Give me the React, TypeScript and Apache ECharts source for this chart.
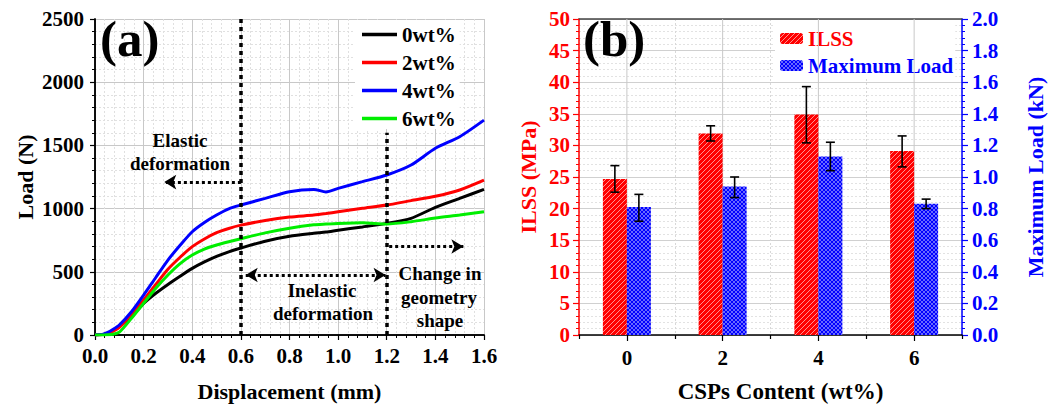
import React, { useEffect, useRef } from 'react';
import * as echarts from 'echarts';

// ---------- Data: panel (a) ----------
const displacement = [0, 0.03, 0.05, 0.075, 0.1, 0.15, 0.2, 0.25, 0.3, 0.35, 0.4, 0.45, 0.5, 0.55, 0.6, 0.7, 0.8, 0.9, 0.95, 1.0, 1.1, 1.2, 1.3, 1.4, 1.5, 1.6];
const load0 = [0, 3, 12, 35, 66, 148, 250, 330, 400, 465, 527, 578, 622, 658, 688, 742, 781, 805, 815, 829, 855, 883, 923, 1010, 1081, 1152];
const load2 = [0, 3, 10, 30, 60, 166, 277, 400, 520, 615, 699, 760, 810, 843, 869, 906, 933, 949, 961, 975, 1002, 1028, 1063, 1097, 1147, 1225];
const load4 = [0, 5, 18, 45, 79, 184, 316, 455, 593, 710, 817, 890, 949, 998, 1028, 1081, 1134, 1152, 1132, 1160, 1213, 1266, 1345, 1477, 1569, 1700];
const load6 = [0, 0, 2, 6, 22, 132, 251, 370, 475, 565, 633, 680, 712, 738, 762, 808, 845, 872, 878, 883, 888, 878, 896, 925, 949, 975];
const curveNames = ['0wt%', '2wt%', '4wt%', '6wt%'];

// ---------- Data: panel (b) ----------
const contents = ['0', '2', '4', '6'];
const ilss = [24.7, 31.9, 34.9, 29.1];
const ilssLow = [22.6, 30.7, 30.4, 26.6];
const ilssHigh = [26.8, 33.1, 39.3, 31.5];
const maxLoad = [0.81, 0.94, 1.13, 0.83];
const maxLoadLow = [0.72, 0.87, 1.04, 0.80];
const maxLoadHigh = [0.89, 1.0, 1.22, 0.86];

const FONT = '"Liberation Serif", "Times New Roman", serif';
const BAR_W = 24;

function hatchRed() {
  const c = document.createElement('canvas');
  c.width = 5; c.height = 5;
  const g = c.getContext('2d')!;
  g.fillStyle = '#ff0000';
  g.fillRect(0, 0, 5, 5);
  g.strokeStyle = 'rgba(255,170,170,0.95)';
  g.lineWidth = 0.9;
  g.beginPath();
  g.moveTo(-1, 6); g.lineTo(6, -1);
  g.moveTo(-1, 1); g.lineTo(1, -1);
  g.moveTo(4, 6); g.lineTo(6, 4);
  g.stroke();
  return c;
}
function crossBlue() {
  const c = document.createElement('canvas');
  c.width = 4; c.height = 4;
  const g = c.getContext('2d')!;
  g.fillStyle = '#0000ff';
  g.fillRect(0, 0, 4, 4);
  g.strokeStyle = 'rgba(140,140,255,0.95)';
  g.lineWidth = 0.8;
  g.beginPath();
  g.moveTo(0, 4); g.lineTo(4, 0);
  g.moveTo(0, 0); g.lineTo(4, 4);
  g.stroke();
  return c;
}

const tickLabel = (color: string) => ({ color, fontFamily: FONT, fontWeight: 'bold' as const, fontSize: 21 });
const titleText = (color: string, size = 22) => ({ color, fontFamily: FONT, fontWeight: 'bold' as const, fontSize: size });

export default function App() {
  const ref = useRef<HTMLDivElement>(null);
  useEffect(() => {
    const chart = echarts.init(ref.current!, null, { renderer: 'svg' });
    const redPat = { image: hatchRed(), repeat: 'repeat' };
    const bluePat = { image: crossBlue(), repeat: 'repeat' };

    const lineColors = ['#000000', '#ff0000', '#0000ff', '#00ee00'];
    const loads = [load0, load2, load4, load6];

    const dotted = { type: [4, 4] as any, width: 3.5, color: '#000' };
    const arrowDots = { type: [3, 3] as any, width: 3, color: '#000' };

    const errRender = (offset: number) => (params: any, api: any) => {
      const i = api.value(0);
      const pLo = api.coord([i, api.value(1)]);
      const pHi = api.coord([i, api.value(2)]);
      const x = pLo[0] + offset;
      const cap = 4.5;
      const st = { stroke: '#000', lineWidth: 1.6 };
      return {
        type: 'group',
        children: [
          { type: 'line', shape: { x1: x, y1: pLo[1], x2: x, y2: pHi[1] }, style: st },
          { type: 'line', shape: { x1: x - cap, y1: pHi[1], x2: x + cap, y2: pHi[1] }, style: st },
          { type: 'line', shape: { x1: x - cap, y1: pLo[1], x2: x + cap, y2: pLo[1] }, style: st },
        ],
      };
    };

    const option: any = {
      animation: false,
      backgroundColor: '#ffffff',
      grid: [
        { left: 95, right: 569, top: 19, bottom: 75 },
        { left: 579, right: 91, top: 19, bottom: 75 },
      ],
      legend: [
        {
          data: curveNames.map((n, k) => ({ name: n, icon: 'rect', itemStyle: { color: lineColors[k] } })),
          orient: 'vertical',
          left: 355,
          top: 20,
          padding: [4, 4, 0, 7],
          itemGap: 7,
          itemWidth: 35,
          itemHeight: 3.5,
          backgroundColor: '#ffffff',
          z: 1,
          textStyle: { ...tickLabel('#000'), lineHeight: 21 },
        },
        {
          data: [
            { name: 'ILSS', textStyle: { color: '#ff0000' } },
            { name: 'Maximum Load', textStyle: { color: '#0000ff' } },
          ],
          orient: 'vertical',
          left: 775,
          top: 20,
          padding: [8, 2, 3, 5],
          itemGap: 6,
          itemWidth: 23,
          itemHeight: 11,
          backgroundColor: '#ffffff',
          z: 1,
          textStyle: tickLabel('#000'),
        },
      ],
      xAxis: [
        {
          type: 'value', gridIndex: 0, min: 0, max: 1.6, interval: 0.2,
          name: 'Displacement (mm)', nameLocation: 'middle', nameGap: 45,
          nameTextStyle: titleText('#000'),
          axisLine: { lineStyle: { color: '#000', width: 1.5 } },
          axisTick: { show: true, length: 5, lineStyle: { color: '#000', width: 1.2 } },
          minorTick: { show: true, splitNumber: 5, length: 3, lineStyle: { color: '#000' } },
          axisLabel: { ...tickLabel('#000'), margin: 10, formatter: (v: number) => v.toFixed(1) },
          splitLine: { show: true, lineStyle: { color: '#c8c8c8', width: 1 } },
          minorSplitLine: { show: true, lineStyle: { color: '#e0e0e0', type: [2, 2], width: 1 } },
        },
        {
          type: 'value', gridIndex: 0, min: 0, max: 1.6, position: 'top',
          axisLine: { show: true, lineStyle: { color: '#000', width: 1.5 } },
          axisTick: { show: false }, axisLabel: { show: false }, splitLine: { show: false },
        },
        {
          type: 'category', gridIndex: 1, data: contents,
          name: 'CSPs Content (wt%)', nameLocation: 'middle', nameGap: 45,
          nameTextStyle: { ...titleText('#000', 23), padding: [0, 0, 0, 20] },
          axisLine: { lineStyle: { color: '#000', width: 1.5 } },
          axisTick: { show: true, length: 4, lineStyle: { color: '#000', width: 1.2 } },
          axisLabel: { ...tickLabel('#000'), margin: 12 },
          splitLine: { show: true, lineStyle: { color: '#d8d8d8', type: [2, 2], width: 1 } },
        },
        {
          type: 'category', gridIndex: 1, data: contents, position: 'bottom',
          axisLine: { show: false },
          axisTick: { show: true, alignWithLabel: true, length: 6, lineStyle: { color: '#000', width: 1.2 } },
          axisLabel: { show: false }, splitLine: { show: false },
        },
        {
          type: 'value', gridIndex: 1, min: 0, max: 1, position: 'top',
          axisLine: { show: true, lineStyle: { color: '#444', width: 1.5 } },
          axisTick: { show: false }, axisLabel: { show: false }, splitLine: { show: false },
        },
      ],
      yAxis: [
        {
          type: 'value', gridIndex: 0, min: 0, max: 2500, interval: 500,
          name: 'Load (N)', nameLocation: 'middle', nameGap: 59,
          nameTextStyle: titleText('#000'),
          axisLine: { show: true, lineStyle: { color: '#000', width: 1.5 } },
          axisTick: { show: true, length: 5, lineStyle: { color: '#000', width: 1.2 } },
          minorTick: { show: true, splitNumber: 5, length: 3, lineStyle: { color: '#000' } },
          axisLabel: { ...tickLabel('#000'), margin: 11, formatter: (v: number) => String(v) },
          splitLine: { show: true, lineStyle: { color: '#c8c8c8', width: 1 } },
          minorSplitLine: { show: true, lineStyle: { color: '#e0e0e0', type: [2, 2], width: 1 } },
        },
        {
          type: 'value', gridIndex: 0, min: 0, max: 2500, position: 'right',
          axisLine: { show: true, lineStyle: { color: '#000', width: 1.5 } },
          axisTick: { show: false }, axisLabel: { show: false }, splitLine: { show: false },
        },
        {
          type: 'value', gridIndex: 1, min: 0, max: 50, interval: 5,
          name: 'ILSS (MPa)', nameLocation: 'middle', nameGap: 40,
          nameTextStyle: titleText('#ff0000'),
          axisLine: { show: true, lineStyle: { color: '#ff0000', width: 1.5 } },
          axisTick: { show: true, length: 6, lineStyle: { color: '#ff0000', width: 1.2 } },
          minorTick: { show: true, splitNumber: 5, length: 3, lineStyle: { color: '#ff0000' } },
          axisLabel: { ...tickLabel('#ff0000'), margin: 9 },
          splitLine: { show: true, lineStyle: { color: '#d0d0d0', width: 1 } },
          minorSplitLine: { show: true, lineStyle: { color: '#e2e2e2', type: [2, 2], width: 1 } },
        },
        {
          type: 'value', gridIndex: 1, min: 0, max: 2, interval: 0.2, position: 'right',
          name: 'Maximum Load (kN)', nameLocation: 'middle', nameGap: 62,
          nameTextStyle: titleText('#0000ff'),
          axisLine: { show: true, lineStyle: { color: '#0000ff', width: 1.5 } },
          axisTick: { show: true, length: 6, lineStyle: { color: '#0000ff', width: 1.2 } },
          minorTick: { show: true, splitNumber: 5, length: 3, lineStyle: { color: '#0000ff' } },
          axisLabel: { ...tickLabel('#0000ff'), margin: 10, formatter: (v: number) => v.toFixed(1) },
          splitLine: { show: false },
        },
      ],
      series: [
        ...curveNames.map((name, k) => ({
          name,
          type: 'line',
          xAxisIndex: 0,
          yAxisIndex: 0,
          data: displacement.map((d, i) => [d, loads[k][i]]),
          symbol: 'none',
          showSymbol: false,
          smooth: 0.25,
          z: 2,
          lineStyle: { color: lineColors[k], width: 3 },
          itemStyle: { color: lineColors[k] },
          ...(k === 0
            ? {
                markLine: {
                  silent: true,
                  animation: false,
                  z: 6,
                  label: { show: false },
                  symbol: ['none', 'none'],
                  data: [
                    [{ coord: [0.6, 0], lineStyle: dotted }, { coord: [0.6, 2500] }],
                    [{ coord: [1.2, 0], lineStyle: dotted }, { coord: [1.2, 1600] }],
                    [
                      { coord: [0.6, 1210], lineStyle: arrowDots, symbol: 'none' },
                      { coord: [0.285, 1210], symbol: 'arrow', symbolSize: [11, 12] },
                    ],
                    [
                      { coord: [0.62, 475], lineStyle: arrowDots, symbol: 'arrow', symbolSize: [11, 12] },
                      { coord: [1.195, 475], symbol: 'arrow', symbolSize: [11, 12] },
                    ],
                    [
                      { coord: [1.21, 700], lineStyle: arrowDots, symbol: 'none' },
                      { coord: [1.515, 700], symbol: 'arrow', symbolSize: [11, 12] },
                    ],
                  ],
                },
              }
            : {}),
        })),
        {
          name: 'centerLines',
          type: 'custom',
          xAxisIndex: 2,
          yAxisIndex: 2,
          silent: true,
          z: 1,
          data: contents.map((_, i) => [i]),
          encode: { x: 0 },
          renderItem: (params: any, api: any) => {
            const i = api.value(0);
            const p0 = api.coord([i, 0]);
            const p1 = api.coord([i, 50]);
            return { type: 'line', shape: { x1: p0[0], y1: p0[1], x2: p1[0], y2: p1[1] }, style: { stroke: '#c8c8c8', lineWidth: 1 } };
          },
        },
        {
          name: 'ILSS',
          type: 'bar',
          xAxisIndex: 2,
          yAxisIndex: 2,
          data: ilss,
          barWidth: BAR_W,
          barGap: '0%',
          z: 2,
          itemStyle: { color: redPat },
        },
        {
          name: 'Maximum Load',
          type: 'bar',
          xAxisIndex: 2,
          yAxisIndex: 3,
          data: maxLoad,
          barWidth: BAR_W,
          barGap: '0%',
          z: 2,
          itemStyle: { color: bluePat },
        },
        {
          name: 'ilssErr',
          type: 'custom',
          xAxisIndex: 2,
          yAxisIndex: 2,
          z: 3,
          silent: true,
          data: contents.map((_, i) => [i, ilssLow[i], ilssHigh[i]]),
          encode: { x: 0, y: [1, 2] },
          renderItem: errRender(-BAR_W / 2),
        },
        {
          name: 'loadErr',
          type: 'custom',
          xAxisIndex: 2,
          yAxisIndex: 3,
          z: 3,
          silent: true,
          data: contents.map((_, i) => [i, maxLoadLow[i], maxLoadHigh[i]]),
          encode: { x: 0, y: [1, 2] },
          renderItem: errRender(BAR_W / 2),
        },
      ],
      graphic: [
        { type: 'text', left: 100, top: 13, z: 10, style: { text: '(a)', font: `bold 51px ${FONT}`, fill: '#000' } },
        { type: 'text', left: 583, top: 13, z: 10, style: { text: '(b)', font: `bold 51px ${FONT}`, fill: '#000' } },
        ...[
          ['Elastic', 180, 140],
          ['deformation', 180, 163],
          ['Inelastic', 322, 290],
          ['deformation', 323, 313],
          ['Change in', 440, 273],
          ['geometry', 439, 297],
          ['shape', 440, 320],
        ].map(([t, x, y]) => ({
          type: 'text',
          x: x as number,
          y: y as number,
          z: 10,
          style: { text: t as string, font: `bold 19px ${FONT}`, fill: '#000', textAlign: 'center', textVerticalAlign: 'middle' },
        })),
      ],
    };

    chart.setOption(option);
    return () => chart.dispose();
  }, []);
  return <div ref={ref} style={{ position: 'fixed', left: 0, top: 0, width: 1053, height: 410 }} />;
}
